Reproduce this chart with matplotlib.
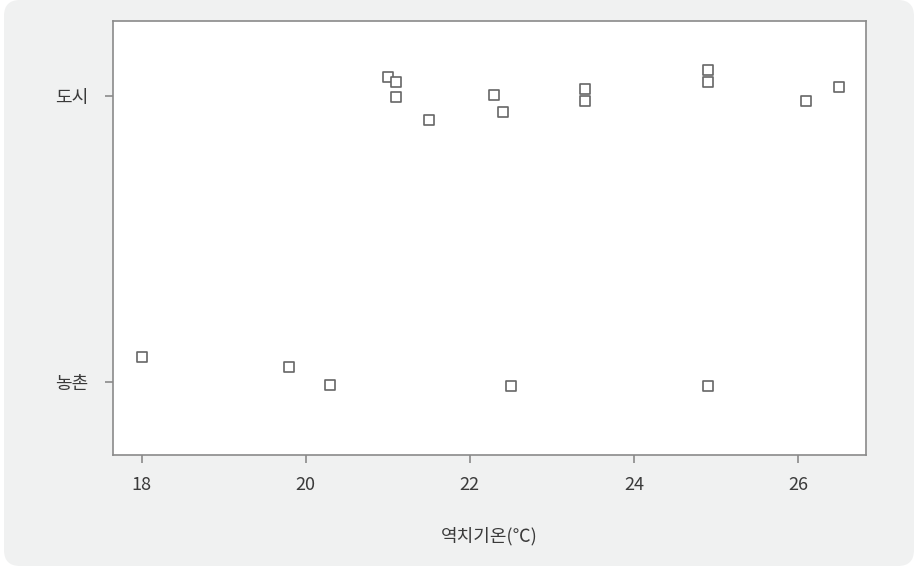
import matplotlib.pyplot as plt
from matplotlib.patches import FancyBboxPatch
from matplotlib.transforms import IdentityTransform

plt.rcParams['font.family'] = ['Noto Sans CJK KR', 'DejaVu Sans']

categories = ['농촌', '도시']

# 도시 (city) points: threshold temperature and vertical jitter
city_temp = [21.0, 21.1, 21.1, 21.5, 22.3, 22.4, 23.4, 23.4, 24.9, 24.9, 26.1, 26.5]
city_jitter = [0.067, 0.048, -0.005, -0.083, 0.005, -0.057, 0.024, -0.019, 0.09, 0.05, -0.019, 0.03]

# 농촌 (rural) points
rural_temp = [18.0, 19.8, 20.3, 22.5, 24.9]
rural_jitter = [0.088, 0.054, -0.012, -0.014, -0.014]

x_ticks = [18, 20, 22, 24, 26]

W, H = 915, 567
fig = plt.figure(figsize=(W / 100, H / 100), dpi=100)
fig.patch.set_facecolor('white')

# rounded grey card behind everything (pixel coordinates, origin bottom-left)
card = FancyBboxPatch((4, 1), 910, 566,
                      boxstyle='round,pad=0,rounding_size=16',
                      transform=IdentityTransform(), facecolor='#f0f1f1',
                      edgecolor='none', zorder=-10)
fig.patches.append(card)

ax = fig.add_axes([113 / W, 1 - 455 / H, (866 - 113) / W, (455 - 21) / H])
ax.set_facecolor('white')

marker_style = dict(marker='s', s=42, facecolors='white', edgecolors='#666666',
                    linewidths=1.2, zorder=3)
ax.scatter(rural_temp, [0 + j for j in rural_jitter], **marker_style)
ax.scatter(city_temp, [1 + j for j in city_jitter], **marker_style)

ax.set_xlim(17.65, 26.83)
ax.set_ylim(-0.255, 1.262)
ax.set_xticks(x_ticks)
ax.set_xticklabels([str(t) for t in x_ticks])
ax.set_yticks([0, 1])
ax.set_yticklabels(categories)

for sp in ax.spines.values():
    sp.set_color('#8a8a8a')
    sp.set_linewidth(1.2)

ax.tick_params(axis='both', colors='#8a8a8a', labelcolor='#3a3a3a',
               labelsize=13, length=6, width=1.2)
ax.tick_params(axis='x', pad=9)
ax.tick_params(axis='y', pad=12)

ax.set_xlabel('역치기온(℃)', fontsize=13, color='#3a3a3a', labelpad=24)

fig.savefig('out.png', dpi=100)
